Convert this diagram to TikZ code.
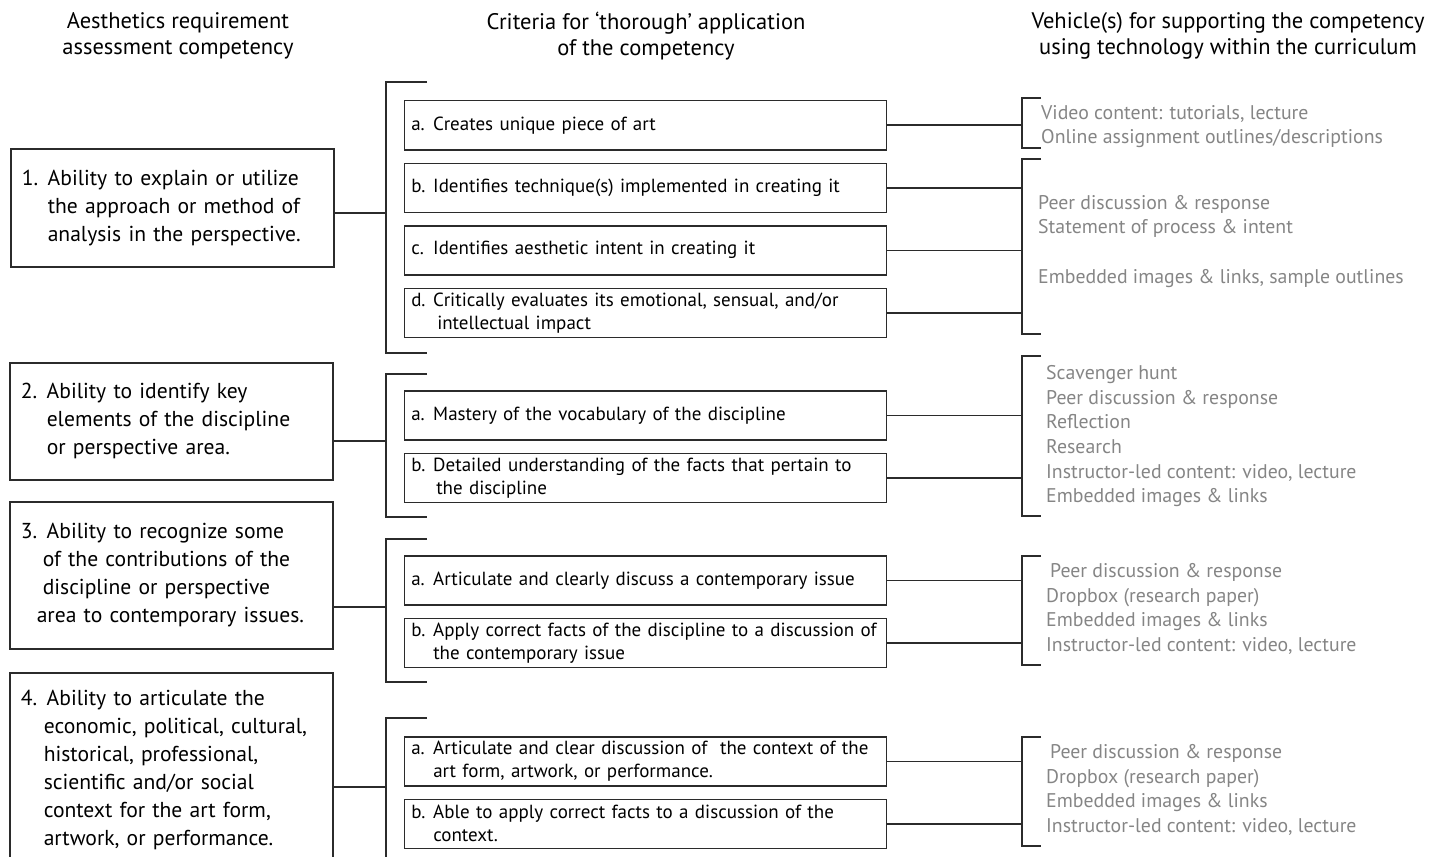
\documentclass[tikz,border=0pt]{standalone}
\usepackage{fontspec}
\setmainfont{PT Sans}
\usetikzlibrary{positioning}
\definecolor{vehiclegray}{HTML}{858585}
\definecolor{linegray}{HTML}{2B2B2B}
\newcommand{\lbl}[2][26pt]{\makebox[#1][l]{#2}}

\tikzset{
  head/.style={align=center, inner sep=0pt, font=\fontsize{22.5}{26}\selectfont},
  comp/.style={draw=linegray, line width=1.5pt, anchor=north west, text width=301pt,
    inner xsep=11pt, inner ysep=0pt, align=left, font=\fontsize{21.6}{28}\selectfont},
  crit/.style={draw=linegray, line width=1.5pt, text width=468pt, inner xsep=7pt,
    inner ysep=0pt, minimum height=49pt, align=left, font=\fontsize{19}{23}\selectfont},
  vehicle/.style={anchor=north west, align=left, inner sep=0pt, text=vehiclegray,
    font=\fontsize{19.8}{24.7}\selectfont},
  link/.style={draw=linegray, line width=1.5pt},
}

\begin{document}
\begin{tikzpicture}[x=1pt, y=-1pt]
\useasboundingbox (0,0) rectangle (1447,856);
\clip (0,0) rectangle (1447,856);

% column headers
\node[head] (headcomp) at (178,36) {Aesthetics requirement\\ assessment competency};
\node[head] (headcrit) at (646,36) {Criteria for ‘thorough’ application\\ of the competency};
\node[head] (headveh) at (1228,36) {Vehicle(s) for supporting the competency\\ using technology within the curriculum};

% competencies
\node[comp, minimum height=118pt] (comp1) at (10,148)
  {\lbl{1.}Ability to explain or utilize\\ \lbl{}the approach or method of\\ \lbl{}analysis in the perspective.};
\node[comp, minimum height=117pt] (comp2) at (9,362)
  {\lbl{2.}Ability to identify key\\ \lbl{}elements of the discipline\\ \lbl{}or perspective area.};
\node[comp, minimum height=147pt] (comp3) at (9,501)
  {\lbl{3.}Ability to recognize some\\ \lbl[22pt]{}of the contributions of the\\ \lbl[22pt]{}discipline or perspective\\ \lbl[16pt]{}area to contemporary issues.};
\node[comp, minimum height=195pt] (comp4) at (9,672)
  {\lbl{4.}Ability to articulate the\\ \lbl[23pt]{}economic, political, cultural,\\ \lbl[23pt]{}historical, professional,\\ \lbl[23pt]{}scientific and/or social\\ \lbl[23pt]{}context for the art form,\\ \lbl[23pt]{}artwork, or performance.};

% criteria
\node[crit, anchor=north east] (crit1a) at (887,100) {\lbl[22pt]{a.}Creates unique piece of art};
\node[crit, below=12pt of crit1a] (crit1b) {\lbl[22pt]{b.}Identifies technique(s) implemented in creating it};
\node[crit, below=12pt of crit1b] (crit1c) {\lbl[22pt]{c.}Identifies aesthetic intent in creating it};
\node[crit, below=12pt of crit1c] (crit1d) {\lbl[22pt]{d.}Critically evaluates its emotional, sensual, and/or\\ \lbl{}intellectual impact};

\node[crit, anchor=north east] (crit2a) at (887,390) {\lbl[22pt]{a.}Mastery of the vocabulary of the discipline};
\node[crit, below=12pt of crit2a] (crit2b) {\lbl[22pt]{b.}Detailed understanding of the facts that pertain to\\ \lbl[25pt]{}the discipline};

\node[crit, anchor=north east] (crit3a) at (887,555) {\lbl[22pt]{a.}Articulate and clearly discuss a contemporary issue};
\node[crit, below=12pt of crit3a] (crit3b) {\lbl[22pt]{b.}Apply correct facts of the discipline to a discussion of\\ \lbl[22pt]{}the contemporary issue};

\node[crit, anchor=north east] (crit4a) at (887,736) {\lbl[22pt]{a.}Articulate and clear discussion of\ \ the context of the\\ \lbl[22pt]{}art form, artwork, or performance.};
\node[crit, below=12pt of crit4a] (crit4b) {\lbl[22pt]{b.}Able to apply correct facts to a discussion of the\\ \lbl[22pt]{}context.};

% vehicles
\node[vehicle] (veh1) at (1041,105) {Video content: tutorials, lecture\\ Online assignment outlines/descriptions};
\node[vehicle] (veh2) at (1038,195) {Peer discussion \& response\\ Statement of process \& intent\\[24.7pt] Embedded images \& links, sample outlines};
\node[vehicle] (veh3) at (1046,365) {Scavenger hunt\\ Peer discussion \& response\\ Reflection\\ Research\\ Instructor-led content: video, lecture\\ Embedded images \& links};
\node[vehicle] (veh4) at (1046,563) {\hspace*{4pt}Peer discussion \& response\\ Dropbox (research paper)\\ Embedded images \& links\\ Instructor-led content: video, lecture};
\node[vehicle] (veh5) at (1046,744) {\hspace*{4pt}Peer discussion \& response\\ Dropbox (research paper)\\ Embedded images \& links\\ Instructor-led content: video, lecture};

% brackets
\foreach \t/\b in {82/353, 374/517, 539/682, 718/900}
  \draw[link] (427,\t) -- (386,\t) -- (386,\b) -- (427,\b);
\foreach \t/\b in {98/148, 159/334, 356/516, 556/665, 737/846}
  \draw[link] (1041,\t) -- (1022,\t) -- (1022,\b) -- (1041,\b);

% connectors
\coordinate (br1) at (386,213);
\coordinate (br2) at (386,441);
\coordinate (br3) at (386,607);
\coordinate (br4) at (386,787);
\foreach \n in {1,...,4}
  \draw[link] (comp\n.east |- br\n) -- (br\n);
\coordinate (vx) at (1022,0);
\foreach \c in {1a,1b,1c,1d,2a,2b,3a,3b,4a,4b}
  \draw[link] (crit\c.east) -- (crit\c.east -| vx);
\end{tikzpicture}
\end{document}
